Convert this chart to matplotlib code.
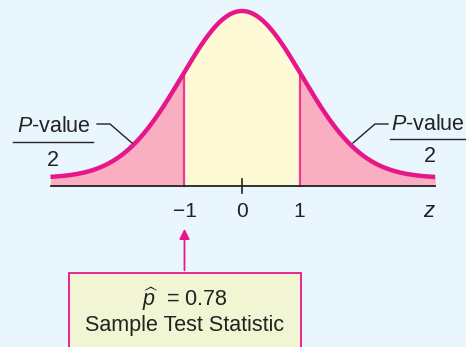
import numpy as np
import matplotlib.pyplot as plt
from matplotlib.patches import Rectangle

plt.rcParams["font.family"] = ["Liberation Sans", "DejaVu Sans"]
plt.rcParams["mathtext.fontset"] = "custom"
plt.rcParams["mathtext.rm"] = "Liberation Sans"
plt.rcParams["mathtext.it"] = "Liberation Sans:italic"

# chart values
crit_z = [-1, 1]
tick_z = [-1, 0, 1]
tick_labels = ["\u22121", "0", "1"]
p_hat = 0.78
z_min, z_max = -3.33, 3.36
curve_sd = 1.05      # drawn spread of the bell
curve_floor = 0.046  # the sketch keeps a little height at the tails

bg = "#EAF6FD"
pink = "#F9AEC2"
yellow = "#FFFAD6"
magenta = "#E6178A"
ink = "#222222"

W, H = 466, 347
fig = plt.figure(figsize=(W / 100, H / 100), dpi=100)
fig.patch.set_facecolor(bg)
ax = fig.add_axes([0, 0, 1, 1])
ax.set_facecolor(bg)
# 0 sits at x px 242, 57.5 px per unit; baseline at y px 186, peak 175 px tall
ax.set_xlim(-242 / 57.5, (W - 242) / 57.5)
ax.set_ylim(-(H - 186) / 175, 186 / 175)
ax.axis("off")

def fx(px):
    return px / W

def fy(py):
    return 1 - py / H

z = np.linspace(z_min, z_max, 600)
dens = (1 - curve_floor) * np.exp(-z ** 2 / (2 * curve_sd ** 2)) + curve_floor

lo, hi = crit_z
ax.fill_between(z, 0, dens, where=z <= lo, color=pink, lw=0)
ax.fill_between(z, 0, dens, where=z >= hi, color=pink, lw=0)
ax.fill_between(z, 0, dens, where=(z >= lo) & (z <= hi), color=yellow, lw=0)
for c in crit_z:
    h = (1 - curve_floor) * np.exp(-c ** 2 / (2 * curve_sd ** 2)) + curve_floor
    ax.plot([c, c], [0, h], color="#EE3B8E", lw=1.6)
ax.plot(z, dens, color=magenta, lw=3.2, solid_capstyle="butt")

# axis
ax.plot([z_min, z_max], [0, 0], color=ink, lw=1.3)
ax.plot([0, 0], [-0.04, 0.04], color=ink, lw=1.2)
for t, lab in zip(tick_z, tick_labels):
    ax.text(t, -0.145, lab, ha="center", va="center", fontsize=15, color=ink)
ax.text(3.24, -0.145, "z", ha="center", va="center", fontsize=16, style="italic", color=ink)

# P-value / 2 labels
fs = 15.5
fig.text(fx(54), fy(127), "$\\it{P}$-value", ha="center", va="center", fontsize=fs, color=ink)
fig.add_artist(plt.Line2D([fx(13), fx(93)], [fy(142), fy(142)], color=ink, lw=1))
fig.text(fx(53), fy(160), "2", ha="center", va="center", fontsize=fs, color=ink)
fig.add_artist(plt.Line2D([fx(97), fx(110), fx(132)], [fy(124), fy(124), fy(143)], color=ink, lw=1))

fig.text(fx(465), fy(125), "$\\it{P}$-value", ha="right", va="center", fontsize=fs, color=ink)
fig.add_artist(plt.Line2D([fx(390), fx(466)], [fy(139), fy(139)], color=ink, lw=1))
fig.text(fx(430), fy(156), "2", ha="center", va="center", fontsize=fs, color=ink)
fig.add_artist(plt.Line2D([fx(353), fx(375), fx(388)], [fy(143), fy(124), fy(124)], color=ink, lw=1))

# sample statistic box with arrow to z = -1
ax.annotate("", xy=(lo, -(226 - 186) / 175), xytext=(lo, -(273 - 186) / 175),
            arrowprops=dict(arrowstyle="-|>,head_width=0.3,head_length=0.6", color=magenta, lw=1.3))
fig.add_artist(Rectangle((fx(69), fy(350)), fx(301) - fx(69), fy(273) - fy(350),
                         facecolor="#F2F5D3", edgecolor=magenta, lw=1.3, transform=fig.transFigure))
fig.text(fx(185), fy(299), "$\\widehat{p}$  = %.2f" % p_hat, ha="center", va="center", fontsize=fs, color=ink)
fig.text(fx(185), fy(326), "Sample Test Statistic", ha="center", va="center", fontsize=fs, color=ink)

fig.savefig("out.png", dpi=100, facecolor=bg)
